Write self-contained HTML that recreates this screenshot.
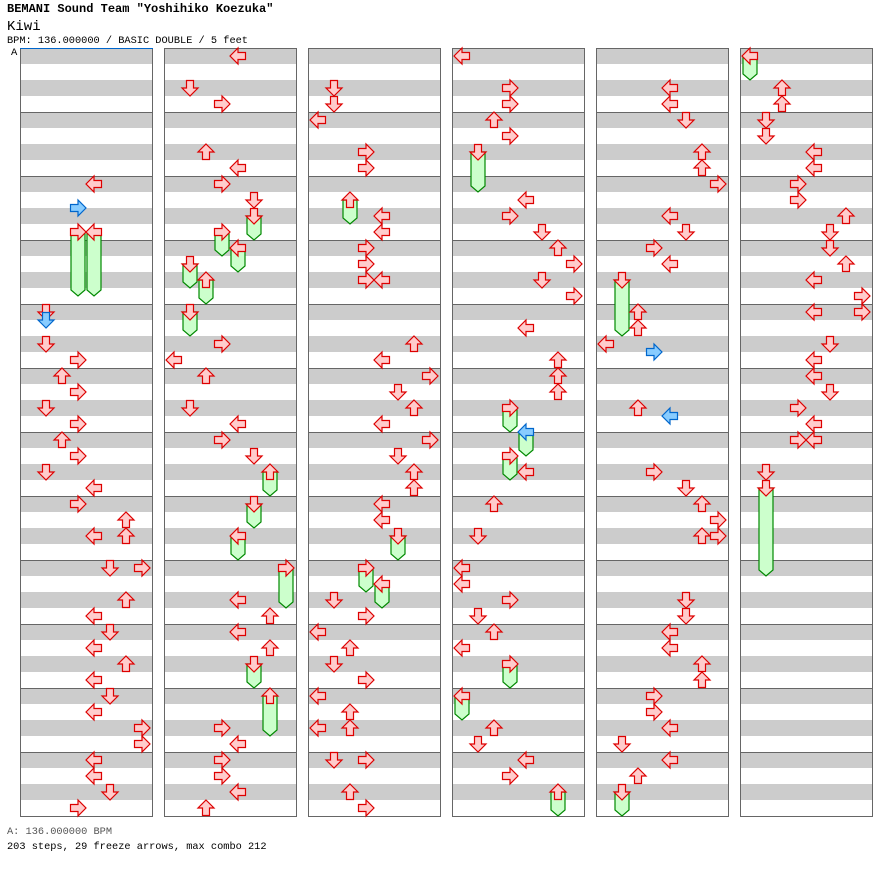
<!DOCTYPE html>
<html><head><meta charset="utf-8"><style>
body{margin:0;background:#fff;width:896px;height:876px;overflow:hidden;font-family:"Liberation Mono",monospace;}
.t{position:absolute;left:7px;white-space:pre;color:#000;}
</style></head><body>
<div class="t" style="top:2px;font-size:12px;font-weight:bold;">BEMANI Sound Team "Yoshihiko Koezuka"</div>
<div class="t" style="top:19px;font-size:14px;">Kiwi</div>
<div class="t" style="top:35px;font-size:10.3px;">BPM: 136.000000 / BASIC DOUBLE / 5 feet</div>
<div class="t" style="top:47px;left:11px;font-size:10.5px;">A</div>
<div class="t" style="top:826px;font-size:10.3px;color:#555;">A: 136.000000 BPM</div>
<div class="t" style="top:841px;font-size:10.3px;">203 steps, 29 freeze arrows, max combo 212</div>
<svg id="s" width="896" height="876" style="position:absolute;left:0;top:0" xmlns="http://www.w3.org/2000/svg"></svg>
<script>
var cols=[20,164,308,452,596,740];
var D=[
[[4,184],[3,208],[3,232,288],[4,232,288],[1,312],[1,320],[1,344],[3,360],[2,376],[3,392],[1,408],[3,424],[2,440],[3,456],[1,472],[4,488],[3,504],[6,520],[4,536],[6,536],[5,568],[7,568],[6,600],[4,616],[5,632],[4,648],[6,664],[4,680],[5,696],[4,712],[7,728],[7,744],[4,760],[4,776],[5,792],[3,808]],
[[4,56],[1,88],[3,104],[2,152],[4,168],[3,184],[5,200],[5,216,232],[3,232,248],[4,248,264],[1,264,280],[2,280,296],[1,312,328],[3,344],[0,360],[2,376],[1,408],[4,424],[3,440],[5,456],[6,472,488],[5,504,520],[4,536,552],[7,568,600],[4,600],[6,616],[4,632],[6,648],[5,664,680],[6,696,728],[3,728],[4,744],[3,760],[3,776],[4,792],[2,808]],
[[1,88],[1,104],[0,120],[3,152],[3,168],[2,200,216],[4,216],[4,232],[3,248],[3,264],[3,280],[4,280],[6,344],[4,360],[7,376],[5,392],[6,408],[4,424],[7,440],[5,456],[6,472],[6,488],[4,504],[4,520],[5,536,552],[3,568,584],[4,584,600],[1,600],[3,616],[0,632],[2,648],[1,664],[3,680],[0,696],[2,712],[0,728],[2,728],[1,760],[3,760],[2,792],[3,808]],
[[0,56],[3,88],[3,104],[2,120],[3,136],[1,152,184],[4,200],[3,216],[5,232],[6,248],[7,264],[5,280],[7,296],[4,328],[6,360],[6,376],[6,392],[3,408,424],[4,432,448],[3,456,472],[4,472],[2,504],[1,536],[0,568],[0,584],[3,600],[1,616],[2,632],[0,648],[3,664,680],[0,696,712],[2,728],[1,744],[4,760],[3,776],[6,792,808]],
[[4,88],[4,104],[5,120],[6,152],[6,168],[7,184],[4,216],[5,232],[3,248],[4,264],[1,280,328],[2,312],[2,328],[0,344],[3,352],[2,408],[4,416],[3,472],[5,488],[6,504],[7,520],[6,536],[7,536],[5,600],[5,616],[4,632],[4,648],[6,664],[6,680],[3,696],[3,712],[4,728],[1,744],[4,760],[2,776],[1,792,808]],
[[0,56,72],[2,88],[2,104],[1,120],[1,136],[4,152],[4,168],[3,184],[3,200],[6,216],[5,232],[5,248],[6,264],[4,280],[7,296],[4,312],[7,312],[5,344],[4,360],[4,376],[5,392],[3,408],[4,424],[3,440],[4,440],[1,472],[1,488,568]]
];
var h='';
cols.forEach(function(x0){
  h+='<rect x="'+(x0+.5)+'" y="48.5" width="132" height="768" fill="#fff"/>';
  for(var k=0;k<24;k++) h+='<rect x="'+(x0+1)+'" y="'+(48+32*k)+'" width="131" height="16" fill="#ccc"/>';
  for(var m=1;m<12;m++) h+='<line x1="'+x0+'" x2="'+(x0+133)+'" y1="'+(48.5+64*m)+'" y2="'+(48.5+64*m)+'" stroke="#666"/>';
  h+='<rect x="'+(x0+.5)+'" y="48.5" width="132" height="768" fill="none" stroke="#666"/>';
});
h+='<line x1="20" x2="153" y1="48.5" y2="48.5" stroke="#06c"/>';
var rot=[0,-90,90,180];
var arrow='-8,0 0,-8 0,-3.5 7.5,-3.5 7.5,3.5 0,3.5 0,8';
D.forEach(function(list,ci){
  var x0=cols[ci];
  list.forEach(function(a){
    var x=x0+10+16*a[0],y=a[1];
    if(a[2]){h+='<polygon points="'+(x-7)+','+y+' '+(x+7)+','+y+' '+(x+7)+','+(a[2]+2)+' '+x+','+(a[2]+8)+' '+(x-7)+','+(a[2]+2)+'" fill="#cfc" stroke="#080" stroke-width="1.2"/>';}
  });
  list.forEach(function(a){
    var x=x0+10+16*a[0],y=a[1];
    var blue=((y-56)%16)==8;
    h+='<polygon transform="translate('+x+','+y+') rotate('+rot[a[0]%4]+')" points="'+arrow+'" fill="'+(blue?'#8cf':'#fcc')+'" stroke="'+(blue?'#06c':'#d00')+'" stroke-width="1.2"/>';
  });
});
document.getElementById('s').innerHTML=h;
</script>
</body></html>
